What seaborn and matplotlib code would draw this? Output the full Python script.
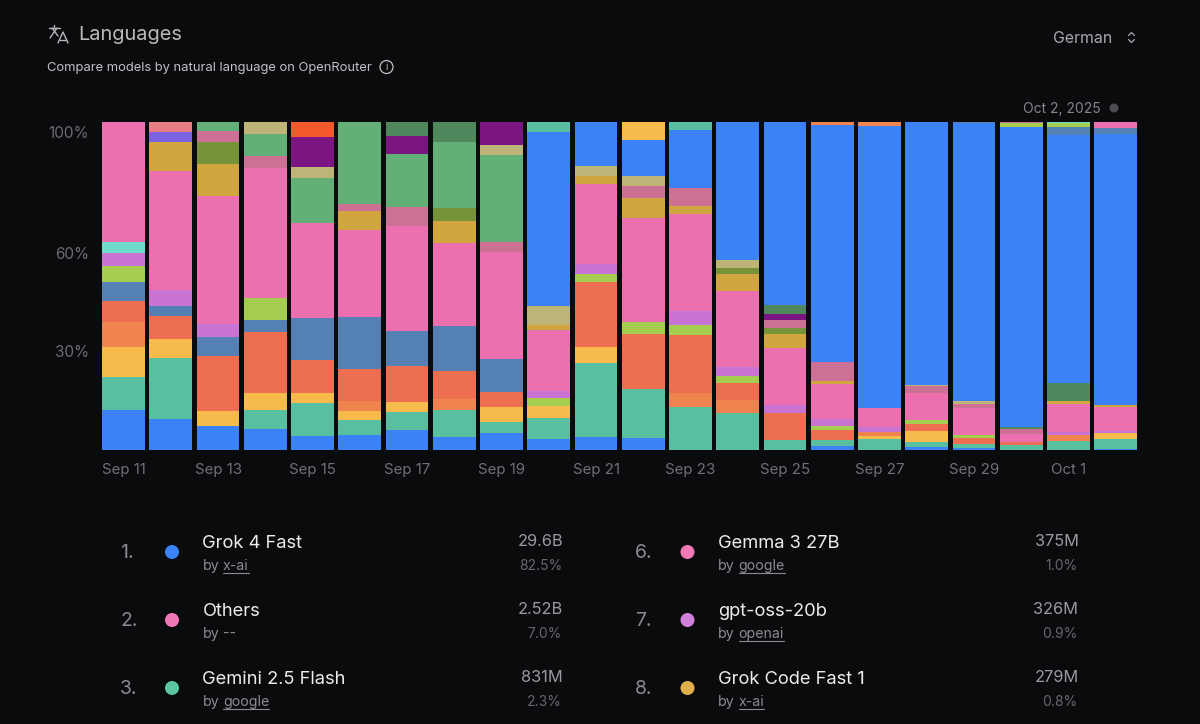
import matplotlib
matplotlib.use("Agg")
import matplotlib.pyplot as plt
import numpy as np
import pandas as pd
import seaborn as sns
from matplotlib.lines import Line2D
from matplotlib.patches import Circle
from matplotlib.transforms import ScaledTranslation

days = ["Sep 11","Sep 12","Sep 13","Sep 14","Sep 15","Sep 16","Sep 17","Sep 18","Sep 19","Sep 20","Sep 21",
        "Sep 22","Sep 23","Sep 24","Sep 25","Sep 26","Sep 27","Sep 28","Sep 29","Sep 30","Oct 1","Oct 2"]

# share per day (%), one list per model, in stacking order from the bottom
blue0  = [12.2,9.2,7.3,6.2,4.1,4.4,6.0,3.8,5.0,3.1,3.9,3.4,0,0,0,1.0,0,0.8,0.5,0,0,0.3]
teal   = [10.0,18.7,0,5.9,10.0,4.5,5.3,8.3,3.3,6.4,22.5,15.1,13.1,11.2,2.8,1.8,3.1,1.4,1.1,1.4,2.6,2.8]
yellow = [9.0,5.9,4.4,5.3,3.2,2.8,3.3,0,4.7,3.9,5.0,0,0,0,0,0,1.1,3.4,0,0,0,2.0]
orange = [7.6,0,0,0,0,3.0,0,3.4,0,0,0,0,4.1,4.0,0,0,1.2,0,0,0,1.8,0]
coral  = [6.7,7.0,16.8,18.4,10.1,9.9,10.9,8.4,4.7,0,19.6,16.8,17.6,5.0,8.4,3.0,0,2.1,1.8,0.9,0,0]
steel  = [5.6,3.1,6.0,3.8,12.9,15.9,10.8,13.7,9.9,0,0,0,0,0,0,0,0,0,0,0,0,0]
lime   = [4.9,0,0,6.8,0,0,0,0,0,2.2,2.5,3.8,3.2,2.2,0,1.5,0,1.2,1.0,0,0,0]
orchid = [4.1,4.8,3.9,0,0,0,0,0,0,2.2,3.0,0,4.1,2.6,2.4,1.9,1.6,0,0,0,0.9,0.5]
mint   = [3.3,0,0,0,0,0,0,0,0,0,0,0,0,0,0,0,0,0,0,0,0,0]
pink   = [36.7,36.4,39.0,39.7,28.8,26.6,32.1,25.2,32.7,18.6,24.4,31.6,29.6,23.3,17.3,10.8,5.7,8.3,8.2,2.5,8.7,7.2]
gold   = [0,8.7,9.8,0,0,5.6,0,6.8,0,1.7,2.5,6.2,2.7,5.1,4.1,1.0,0,0,0,0,0.8,0.8]
olive  = [0,0,6.8,0,0,0,0,4.0,0,0,0,0,0,1.9,2.0,0,0,0,0,0,0,0]
mauve  = [0,0,3.3,3.6,0,2.4,5.7,0,3.2,0,0,3.6,5.3,0,2.4,5.7,0,2.1,1.4,1.3,0,0]
green  = [0,0,2.8,6.5,14.0,25.0,16.0,20.0,26.7,0,0,0,0,0,0,0,0,0,0,0,0,0]
khaki  = [0,0,0,3.9,3.3,0,0,0,3.1,5.6,3.1,3.2,0,2.6,0,0,0,0.4,0.9,0,0,0]
purple = [0,0,0,0,9.2,0,5.7,0,7.0,0,0,0,0,0,1.9,0,0,0,0,0,0,0]
forest = [0,0,0,0,0,0,4.3,6.3,0,0,0,0,0,0,2.7,0,0,0,0,0.7,5.4,0]
grok   = [0,0,0,0,0,0,0,0,0,53.2,13.5,10.9,17.8,42.0,55.7,72.1,86.0,80.2,84.5,91.5,75.6,82.4]
steel2 = [0,0,0,0,0,0,0,0,0,0,0,0,0,0,0,0,0,0,0.4,0,2.4,1.9]
teal2  = [0,0,0,0,0,0,0,0,0,3.1,0,0,2.5,0,0,0,0,0,0,0,0,0]
yellow2= [0,0,0,0,0,0,0,0,0,0,0,5.6,0,0,0,0,0,0,0,0,0,0]
orange2= [0,0,0,0,0,0,0,0,0,0,0,0,0,0,0,1.1,1.3,0,0,0,0,0]
lime2  = [0,0,0,0,0,0,0,0,0,0,0,0,0,0,0,0,0,0,0,1.1,1.1,0]
mauve2 = [0,0,0,0,0,0,0,0,0,0,0,0,0,0,0,0,0,0,0,0.5,0,0]
mint2  = [0,0,0,0,0,0,0,0,0,0,0,0,0,0,0,0,0,0,0,0,0.5,0]
pink2  = [0,0,0,0,0,0,0,0,0,0,0,0,0,0,0,0,0,0,0,0,0,1.9]
flame  = [0,0,0,0,4.6,0,0,0,0,0,0,0,0,0,0,0,0,0,0,0,0,0]
violet = [0,3.2,0,0,0,0,0,0,0,0,0,0,0,0,0,0,0,0,0,0,0,0]
salmon = [0,3.1,0,0,0,0,0,0,0,0,0,0,0,0,0,0,0,0,0,0,0,0]

series = {"blue0":blue0,"teal":teal,"yellow":yellow,"orange":orange,"coral":coral,"steel":steel,"lime":lime,
          "orchid":orchid,"mint":mint,"pink":pink,"gold":gold,"olive":olive,"mauve":mauve,"green":green,
          "khaki":khaki,"purple":purple,"forest":forest,"grok":grok,"steel2":steel2,"teal2":teal2,
          "yellow2":yellow2,"orange2":orange2,"lime2":lime2,"mauve2":mauve2,"mint2":mint2,"pink2":pink2,
          "flame":flame,"violet":violet,"salmon":salmon}
colors = {"blue0":"#3B82F6","teal":"#58BFA1","yellow":"#F6BB4B","orange":"#EF844E","coral":"#EE6E51","steel":"#5480B4",
          "lime":"#A5CE50","orchid":"#C974D2","pink":"#EC6FAF","mint":"#6FDCCB","gold":"#D2A63F","olive":"#779339",
          "mauve":"#CC7095","green":"#62AF78","khaki":"#BEB477","purple":"#7B1581","forest":"#4F885D","grok":"#3B82F6",
          "steel2":"#5480B4","teal2":"#58BFA1","yellow2":"#F6BB4B","orange2":"#EF844E","lime2":"#A5CE50","mauve2":"#CC7095",
          "mint2":"#6FDCCB","pink2":"#EC6FAF","flame":"#F25A2B","violet":"#7A63E0","salmon":"#E57F84"}

ranks   = ["1.","2.","3.","6.","7.","8."]
names   = ["Grok 4 Fast","Others","Gemini 2.5 Flash","Gemma 3 27B","gpt-oss-20b","Grok Code Fast 1"]
authors = ["x-ai","--","google","google","openai","x-ai"]
tokens  = ["29.6B","2.52B","831M","375M","326M","279M"]
shares  = ["82.5%","7.0%","2.3%","1.0%","0.9%","0.8%"]
dots    = ["#3B82F6","#F178B6","#5BC5A4","#F178B6","#D07FDB","#E0B04A"]

BG = "#0A0B0D"
sns.set_theme(style="dark")
plt.rcParams["font.family"] = ["Inter", "Noto Sans CJK SC", "DejaVu Sans"]

df = pd.DataFrame(series, index=days)
df = df.div(df.sum(axis=1), axis=0) * 100
long = df.reset_index(names="day").melt("day", var_name="model", value_name="share")
long["pos"] = long["day"].map({d: i for i, d in enumerate(days)})

W, H = 1200, 724
fig = plt.figure(figsize=(W / 100, H / 100), dpi=100, facecolor=BG)
ax = fig.add_axes([100 / W, 1 - 449.5 / H, 1039.4 / W, 327.8 / H], facecolor=BG)

order = list(series)
sns.histplot(data=long, x="pos", weights="share", hue="model", hue_order=order[::-1], palette=colors,
             multiple="stack", discrete=True, shrink=0.905, linewidth=0, alpha=1, legend=False, ax=ax)
ax.set_xlim(-0.5, 21.5)
ax.set_ylim(0, 100)
ax.set_xlabel("")
ax.set_ylabel("")
ax.grid(False)
for s in ax.spines.values():
    s.set_visible(False)
ax.set_xticks(range(0, 22, 2), days[::2])
ax.set_yticks([30, 60, 100], ["30%", "60%", "100%"])
ax.tick_params(axis="x", length=0, pad=10, labelsize=10.8, labelcolor="#6F7177")
ax.tick_params(axis="y", length=0, pad=8, labelsize=11, labelcolor="#6A6C71")
lab = ax.get_yticklabels()[-1]
lab.set_transform(lab.get_transform() + ScaledTranslation(0, -10.5 / 100, fig.dpi_scale_trans))

# page furniture in pixel coordinates
ov = fig.add_axes([0, 0, 1, 1], facecolor="none", zorder=5)
ov.set_xlim(0, W)
ov.set_ylim(H, 0)
ov.axis("off")

ICON = "#B5B6B9"
for xs, ys in [([49, 60], [28, 28]), ([54, 54], [24.5, 28]), ([57, 50], [28, 38]), ([52, 58], [28, 36]),
               ([58, 63, 68], [43, 32, 43]), ([60, 66], [39.5, 39.5])]:
    ov.add_line(Line2D(xs, ys, color=ICON, lw=1.0))
ov.text(78.5, 34.5, "Languages", color="#B9BABC", fontsize=14.4, ha="left", va="center")
ov.text(47, 68.5, "Compare models by natural language on OpenRouter", color="#C0C1C4", fontsize=9.35, ha="left", va="center")
ov.add_patch(Circle((386.5, 67), 6.5, fill=False, ec="#C0C1C4", lw=0.9))
ov.text(386.5, 67.5, "i", color="#C0C1C4", fontsize=7, ha="center", va="center")
ov.text(1053, 38.5, "German", color="#A8A9AC", fontsize=11.4, ha="left", va="center")
ov.add_line(Line2D([1128.5, 1131.5, 1134.5], [35.5, 32.5, 35.5], color="#A8A9AC", lw=0.9))
ov.add_line(Line2D([1128.5, 1131.5, 1134.5], [39.5, 42.5, 39.5], color="#A8A9AC", lw=0.9))
ov.text(1023, 109, "Oct 2, 2025", color="#85868A", fontsize=10, ha="left", va="center")
ov.add_patch(Circle((1114, 108), 4.5, fc="#4B4C50", ec="none"))

fig.canvas.draw()
rend = fig.canvas.get_renderer()
inv = ov.transData.inverted()
for i in range(6):
    col, row = divmod(i, 3)
    dx = 515.5 * col
    y = 552 + 68 * row
    ov.text(120 + dx - col * 0.5, y + 1.5, ranks[i], color="#8A8B8F", fontsize=14, ha="left", va="center")
    ov.add_patch(Circle((172 + dx, y), 7, fc=dots[i], ec="none"))
    ov.text(202.5 + dx, y - 8, names[i], color="#ECECEE", fontsize=13.2, ha="left", va="center")
    by = ov.text(202.5 + dx, y + 14, "by", color="#8A8B8F", fontsize=10.2, ha="left", va="center")
    au = ov.text(223 + dx, y + 14, authors[i], color="#8A8B8F", fontsize=10.2, ha="left", va="center")
    if authors[i] != "--":
        bb = au.get_window_extent(rend)
        x0 = inv.transform((bb.x0, 0))[0]
        x1 = inv.transform((bb.x1, 0))[0]
        ov.add_line(Line2D([x0, x1], [y + 20.5, y + 20.5], color="#8A8B8F", lw=0.8))
    ov.text(563 + dx, y - 10.5, tokens[i], color="#9A9B9F", fontsize=11.8, ha="right", va="center")
    ov.text(562 + dx, y + 14, shares[i], color="#66676B", fontsize=10, ha="right", va="center")

fig.savefig("out.png", dpi=100, facecolor=BG)
